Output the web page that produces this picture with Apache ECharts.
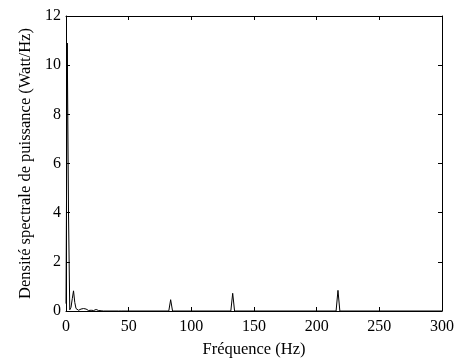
<!DOCTYPE html>
<html>
<head>
<meta charset="utf-8">
<script src="https://cdn.jsdelivr.net/npm/echarts@6/dist/echarts.min.js"></script>
<style>
  html, body { margin: 0; padding: 0; background: #fff; }
  #chart { width: 457px; height: 363px; }
</style>
</head>
<body>
<div id="chart"></div>
<script>
// frequences (Hz) et densite spectrale
const freqs = [0, 1, 2, 3, 4, 5, 6, 7, 8, 9, 10, 11, 12, 13, 14, 15, 16, 17, 18, 19, 20, 21, 22, 23, 24, 25, 26, 27, 28, 30,
  42, 43, 44, 82, 83.5, 85, 131.5, 133, 134.5, 215.5, 217, 218.5, 300];
const psd = [0.3, 10.9, 4.0, 0.05, 0.15, 0.5, 0.82, 0.35, 0.1, 0.04, 0.03, 0.07, 0.08, 0.05, 0.1, 0.12, 0.08, 0.04, 0.02, 0.05, 0.03, 0.01, 0.02, 0.01, 0.06, 0.07, 0.02, 0.01, 0.01, 0,
  0, 0.03, 0, 0, 0.46, 0, 0, 0.72, 0, 0, 0.84, 0, 0];
const xTicks = [0, 300, 50];
const yTicks = [0, 12, 2];

const font = '"Liberation Serif", "DejaVu Serif", serif';
const data = freqs.map((f, i) => [f, psd[i]]);

const chart = echarts.init(document.getElementById('chart'));

const axisBase = {
  type: 'value',
  axisLine: { show: true, onZero: false, lineStyle: { color: '#000', width: 1 } },
  axisTick: { show: true, inside: true, length: 4, lineStyle: { color: '#000' } },
  splitLine: { show: false },
  axisLabel: { color: '#000', fontFamily: font, fontSize: 16 }
};

chart.setOption({
  animation: false,
  grid: { left: 66, right: 14, top: 16, bottom: 50 },
  xAxis: [
    {
      ...axisBase,
      min: xTicks[0], max: xTicks[1], interval: xTicks[2],
      name: 'Fréquence (Hz)',
      nameLocation: 'middle',
      nameGap: 30,
      nameTextStyle: { color: '#000', fontFamily: font, fontSize: 16.5 },
      axisLabel: { ...axisBase.axisLabel, margin: 8 }
    },
    {
      ...axisBase,
      position: 'top',
      min: xTicks[0], max: xTicks[1], interval: xTicks[2],
      axisLabel: { show: false }
    }
  ],
  yAxis: [
    {
      ...axisBase,
      min: yTicks[0], max: yTicks[1], interval: yTicks[2],
      name: 'Densité spectrale de puissance (Watt/Hz)',
      nameLocation: 'middle',
      nameGap: 30,
      nameTextStyle: { color: '#000', fontFamily: font, fontSize: 16.5 },
      axisLabel: { ...axisBase.axisLabel, margin: 5 }
    },
    {
      ...axisBase,
      position: 'right',
      min: yTicks[0], max: yTicks[1], interval: yTicks[2],
      axisLabel: { show: false }
    }
  ],
  series: [{
    type: 'line',
    data: data,
    showSymbol: false,
    lineStyle: { color: '#000', width: 1 }
  }]
});
</script>
</body>
</html>
